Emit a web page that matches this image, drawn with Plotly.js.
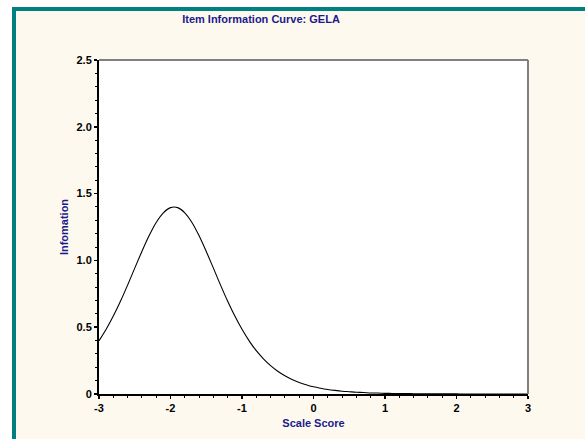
<!DOCTYPE html>
<html>
<head>
<meta charset="utf-8">
<script src="https://cdn.plot.ly/plotly-3.0.1.min.js"></script>
<style>
  html, body { margin: 0; padding: 0; background: #ffffff; width: 585px; height: 439px; overflow: hidden; }
  #frame { position: absolute; left: 12px; top: 7px; width: 569px; height: 428px;
           border-left: 4px solid #008080; border-top: 4px solid #008080; background: #FEF9EF; }
  #chart { width: 569px; height: 428px; }
</style>
</head>
<body>
<div id="frame"><div id="chart"></div></div>
<script>
// Scale score (theta) grid
var scaleScore = [-3.0,-2.9,-2.8,-2.7,-2.6,-2.5,-2.4,-2.3,-2.2,-2.1,-2.0,-1.9,-1.8,-1.7,-1.6,-1.5,-1.4,-1.3,-1.2,-1.1,-1.0,
  -0.9,-0.8,-0.7,-0.6,-0.5,-0.4,-0.3,-0.2,-0.1,0.0,0.1,0.2,0.3,0.4,0.5,0.6,0.7,0.8,0.9,1.0,
  1.1,1.2,1.3,1.4,1.5,1.6,1.7,1.8,1.9,2.0,2.1,2.2,2.3,2.4,2.5,2.6,2.7,2.8,2.9,3.0];
// Item information
var information = [0.398,0.484,0.583,0.694,0.815,0.942,1.067,1.184,1.284,1.356,1.395,1.395,1.356,1.284,1.184,1.067,0.942,0.815,0.694,0.583,0.484,
  0.398,0.324,0.263,0.212,0.170,0.136,0.108,0.086,0.069,0.054,0.043,0.034,0.027,0.021,0.017,0.013,0.011,0.008,0.007,0.005,
  0.004,0.003,0.003,0.002,0.002,0.001,0.001,0.001,0.001,0.001,0.000,0.000,0.000,0.000,0.000,0.000,0.000,0.000,0.000,0.000];

var xTickVals = [-3,-2,-1,0,1,2,3];
var xTickText = ["-3","-2","-1","0","1","2","3"];
var yTickVals = [0,0.5,1.0,1.5,2.0,2.5];
var yTickText = ["0","0.5","1.0","1.5","2.0","2.5"];

var chartTitle = "Item Information Curve: GELA";
var xTitle = "Scale Score";
var yTitle = "Infomation";

var navy = "#1A1A8C";
var tickFont = {family: "Liberation Sans, Arial, sans-serif", size: 11, color: "#000000", weight: "bold"};

var trace = {
  x: scaleScore, y: information, type: "scatter", mode: "lines",
  line: {color: "#000000", width: 1.1, shape: "spline"},
  hoverinfo: "skip"
};

var layout = {
  width: 569, height: 428,
  paper_bgcolor: "#FEF9EF", plot_bgcolor: "#FFFFFF",
  margin: {l: 83, r: 57, t: 49, b: 45},
  showlegend: false,
  title: {
    text: "<b>" + chartTitle + "</b>",
    font: {family: "Liberation Sans, Arial, sans-serif", size: 11, color: navy},
    xref: "container", x: 0.4306, xanchor: "center",
    yref: "container", y: 0.981, yanchor: "middle"
  },
  xaxis: {
    range: [-3, 3], tickmode: "array", tickvals: xTickVals, ticktext: xTickText,
    ticks: "outside", ticklen: 3, tickwidth: 1.5, tickcolor: "#000",
    minor: {dtick: 0.2, ticks: "outside", ticklen: 2, tickwidth: 1, tickcolor: "#000"},
    showline: true, linecolor: "#000", linewidth: 2, showgrid: false, zeroline: false,
    tickfont: tickFont,
    title: {text: "<b>" + xTitle + "</b>", font: {family: "Liberation Sans, Arial, sans-serif", size: 11, color: navy}, standoff: 6}
  },
  yaxis: {
    range: [0, 2.5], tickmode: "array", tickvals: yTickVals, ticktext: yTickText,
    ticks: "outside", ticklen: 3, tickwidth: 1.5, tickcolor: "#000",
    minor: {dtick: 0.1, ticks: "outside", ticklen: 2, tickwidth: 1, tickcolor: "#000"},
    showline: true, linecolor: "#000", linewidth: 2, showgrid: false, zeroline: false,
    tickfont: tickFont,
    title: {text: "<b>" + yTitle + "</b>", font: {family: "Liberation Sans, Arial, sans-serif", size: 11, color: navy}, standoff: 6}
  },
  shapes: [
    {type: "line", xref: "paper", yref: "paper", x0: 0, x1: 1, y0: 1, y1: 1, line: {color: "#808080", width: 2}},
    {type: "line", xref: "paper", yref: "paper", x0: 1, x1: 1, y0: 0, y1: 1, line: {color: "#808080", width: 2}}
  ]
};

Plotly.newPlot("chart", [trace], layout, {displayModeBar: false, staticPlot: true});
</script>
</body>
</html>
